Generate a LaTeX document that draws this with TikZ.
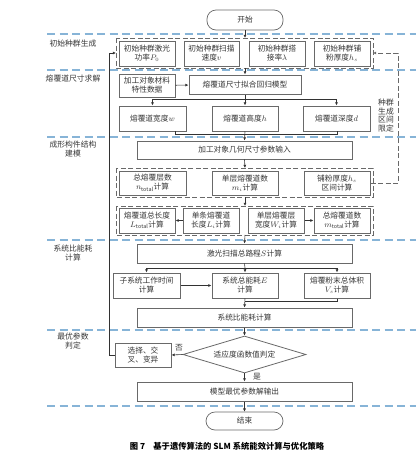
\documentclass[tikz,border=0pt]{standalone}
\usepackage{fontspec}
\setmainfont{Noto Sans CJK SC}
\usetikzlibrary{arrows.meta,shapes.geometric}
\definecolor{sepblue}{RGB}{135,180,215}
\definecolor{boxgray}{RGB}{105,105,105}
\definecolor{txtgray}{RGB}{55,55,55}
\definecolor{linegray}{RGB}{50,50,50}
\tikzset{
  box/.style={draw=boxgray,line width=1pt,fill=white,align=center,inner sep=1pt,
    font=\fontsize{7.7}{9}\selectfont,text=txtgray},
  term/.style={box,rounded corners=9pt,line width=0.7pt},
  grp/.style={draw=boxgray,line width=0.8pt,dash pattern=on 5pt off 2.5pt},
  sep/.style={draw=sepblue,line width=1.1pt,dash pattern=on 8pt off 4.5pt},
  conn/.style={draw=linegray,line width=0.6pt},
  arr/.style={conn,-{Latex[length=3.2pt,width=3pt]}},
  lab/.style={align=center,font=\fontsize{7.8}{9}\selectfont,text=txtgray,inner sep=0pt},
  dconn/.style={draw=boxgray,line width=0.8pt,dash pattern=on 5pt off 2.5pt},
}
\begin{document}
\begin{tikzpicture}[x=1pt,y=-1pt]
\useasboundingbox[fill=white] (0,0) rectangle (416,456);
% separators
\foreach \yy/\nm in {34/s1,70/s2,137/s3,240/s4,330/s5,406/s6}{
  \coordinate (\nm a) at (47,\yy); \coordinate (\nm b) at (416,\yy);
  \path[sep] (\nm a) -- (\nm b);
}
% stage labels
\node[lab] (L1) at (73,44) {初始种群生成};
\node[lab] (L2) at (73,79) {熔覆道尺寸求解};
\node[lab] (L3) at (73,149) {成形构件结构\\建模};
\node[lab] (L4) at (73,253) {系统比能耗\\计算};
\node[lab] (L5) at (73,341) {最优参数\\判定};
% start
\node[term,minimum width=76pt,minimum height=20pt] (start) at (245,20) {开始};
% group 1
\coordinate (g1a) at (116,38); \coordinate (g1b) at (373,68);
\path[grp] (g1a) rectangle (g1b);
\coordinate (g1t) at (245,38);
\coordinate (g1w) at (116,53);
\coordinate (g1e) at (373,53);
\tikzset{r1/.style={box,minimum width=56pt,minimum height=25pt}}
\node[r1] (b11) at (147,53.5) {初始种群激光\\功率$P_0$};
\node[r1,minimum width=55pt] (b12) at (211.5,53.5) {初始种群扫描\\速度$v$};
\node[r1] (b13) at (277,53.5) {初始种群搭\\接率$\lambda$};
\node[r1] (b14) at (342,53.5) {初始种群铺\\粉厚度$h_s$};
\draw[arr] (start) -- (g1t);
% stage 2
\node[box,minimum width=56pt,minimum height=23pt] (mat) at (147,85.5) {加工对象材料\\特性数据};
\node[box,minimum width=112pt,minimum height=19pt] (model) at (245,84.5) {熔覆道尺寸拟合回归模型};
\coordinate (g1bot) at (245,68);
\draw[arr] (g1bot) -- (model);
\draw[arr] (mat) -- (model);
\tikzset{r2/.style={box,minimum width=67pt,minimum height=25pt}}
\node[r2] (w) at (152.5,118.5) {熔覆道宽度$w$};
\node[r2,minimum width=66pt] (h) at (245,118.5) {熔覆道高度$h$};
\node[r2] (d) at (336.5,118.5) {熔覆道深度$d$};
\coordinate (br1) at (245,99);
\draw[conn] (model.south) -- (br1);
\draw[arr] (br1) -| (w.north);
\draw[arr] (br1) -| (d.north);
\draw[arr] (br1) -- (h.north);
% vertical label
\node[lab,font=\fontsize{7.8}{8.6}\selectfont] (vl) at (386,115.5) {种群\\生成\\区间\\限定};
% stage 3
\node[box,minimum width=215pt,minimum height=18pt] (geo) at (244.5,150) {加工对象几何尺寸参数输入};
\coordinate (wb) at (175,131); \coordinate (db) at (337,131);
\coordinate (cv) at (245,134);
\draw[conn] (wb) |- (cv);
\draw[conn] (db) |- (cv);
\draw[arr] (h.south) -- (geo.north);
% group 2
\coordinate (g2a) at (116,168); \coordinate (g2b) at (373,197);
\path[grp] (g2a) rectangle (g2b);
\coordinate (g2t) at (245,168);
\draw[arr] (geo.south) -- (g2t);
\tikzset{r3/.style={box,minimum width=67pt,minimum height=24pt}}
\node[r3] (n) at (152.5,183) {总熔覆层数\\$n_{\mathrm{total}}$计算};
\node[r3,minimum width=66pt] (mi) at (245,183) {单层熔覆道数\\$m_i$计算};
\node[r3,minimum width=66pt] (hs) at (337,183) {铺粉厚度$h_s$\\区间计算};
% right dashed feedback
\coordinate (rd1) at (398,183); \coordinate (rd2) at (398,53);
\draw[dconn,-{Latex[length=3.2pt,width=3pt]}] (hs.east) -- (rd1) -- (rd2) -- (g1e);
% group 3
\coordinate (g3a) at (116,206); \coordinate (g3b) at (373,235);
\path[grp] (g3a) rectangle (g3b);
\coordinate (g2bot) at (245,197); \coordinate (g3t) at (245,206);
\draw[arr] (g2bot) -- (g3t);
\tikzset{r4/.style={box,minimum width=56pt,minimum height=25pt}}
\node[r4] (Lt) at (147,220.5) {熔覆道总长度\\$L_{\mathrm{total}}$计算};
\node[r4] (Li) at (211,220.5) {单条熔覆道\\长度$L_i$计算};
\node[r4] (Wi) at (276,220.5) {单层熔覆层\\宽度$W_i$计算};
\node[r4] (mt) at (342,220.5) {总熔覆道数\\$m_{\mathrm{total}}$计算};
\draw[arr] (Li) -- (Lt);
\draw[arr] (Wi) -- (mt);
% stage 4
\node[box,minimum width=215pt,minimum height=19pt] (S) at (244.5,253.5) {激光扫描总路程$S$计算};
\coordinate (g3bot) at (245,235);
\draw[arr] (g3bot) -- (S.north);
\tikzset{r5/.style={box,minimum width=67pt,minimum height=25pt}}
\node[r5] (sub) at (146.5,285.5) {子系统工作时间\\计算};
\node[r5,minimum width=66pt] (E) at (245,285.5) {系统总能耗$E$\\计算};
\node[r5,minimum width=66pt] (Vs) at (337,285.5) {熔覆粉末总体积\\$V_s$计算};
\coordinate (br2) at (245,268);
\draw[conn] (S.south) -- (br2);
\draw[arr] (br2) -| (sub.north);
\draw[arr] (br2) -| (Vs.north);
\draw[arr] (br2) -- (E.north);
\draw[arr] (sub) -- (E);
\node[box,minimum width=215pt,minimum height=19pt] (spec) at (244.5,317.5) {系统比能耗计算};
\coordinate (cv2) at (245,301);
\draw[conn] (Vs.south) |- (cv2);
\draw[arr] (E.south) -- (spec.north);
% stage 5
\node[diamond,draw=boxgray,line width=0.8pt,fill=white,aspect=3.3,inner sep=0pt,
  minimum width=123pt,minimum height=37pt,font=\fontsize{7.7}{9}\selectfont,text=txtgray] (dia) at (244.5,354.5) {适应度函数值判定};
\draw[arr] (spec.south) -- (dia.north);
\node[box,minimum width=56pt,minimum height=24pt] (sel) at (143,355) {选择、交\\叉、变异};
\draw[arr] (dia.west) -- (sel.east);
\node[lab] (no) at (179,348) {否};
\coordinate (lf1) at (109,355); \coordinate (lf2) at (109,53);
\draw[arr] (sel.west) -- (lf1) -- (lf2) -- (g1w);
\node[box,minimum width=215pt,minimum height=19pt] (out) at (244.5,391.5) {模型最优参数解输出};
\draw[arr] (dia.south) -- (out.north);
\node[lab] (yes) at (257,376.5) {是};
\node[term,minimum width=77pt,minimum height=18pt] (end) at (244.5,421) {结束};
\draw[arr] (out.south) -- (end.north);
% caption
\node[lab,font=\fontsize{8.3}{9.5}\bfseries,text=black] (cap) at (227,446) {图 7\quad 基于遗传算法的 SLM 系统能效计算与优化策略};
\end{tikzpicture}
\end{document}
